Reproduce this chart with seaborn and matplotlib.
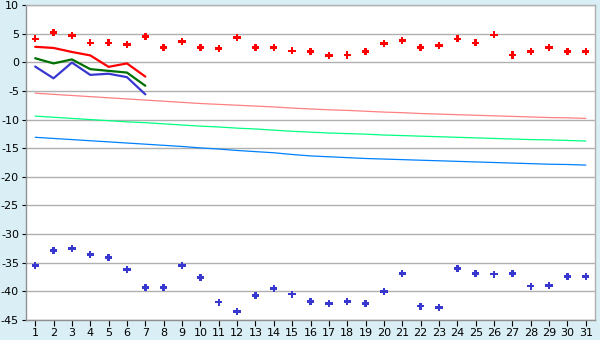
import matplotlib
matplotlib.use("Agg")
import matplotlib.pyplot as plt
import seaborn as sns
import numpy as np
import pandas as pd

days = list(range(1, 32))

max_temp = [4.1, 5.2, 4.7, 3.4, 3.4, 3.1, 4.5, 2.6, 3.6, 2.6, 2.4, 4.3, 2.6, 2.6, 2.0,
            1.9, 1.2, 1.3, 1.9, 3.3, 3.8, 2.6, 2.9, 4.1, 3.4, 4.8, 1.3, 1.9, 2.6, 1.9, 1.9]
min_temp = [-35.5, -32.9, -32.5, -33.6, -34.1, -36.2, -39.3, -39.3, -35.5, -37.6, -41.9,
            -43.5, -40.7, -39.5, -40.5, -41.8, -42.1, -41.8, -42.1, -40.0, -36.9, -42.6,
            -42.8, -36.0, -36.9, -37.0, -36.9, -39.1, -39.0, -37.4, -37.4]

obs_days = [1, 2, 3, 4, 5, 6, 7]
obs_max = [2.7, 2.5, 1.8, 1.2, -0.8, -0.2, -2.5]
obs_mean = [0.7, -0.2, 0.5, -1.2, -1.5, -1.8, -4.1]
obs_min = [-0.75, -2.8, -0.05, -2.2, -2.0, -2.6, -5.6]

norm_max = [-5.4, -5.6, -5.8, -6.0, -6.2, -6.4, -6.6, -6.8, -7.0, -7.2, -7.35, -7.5, -7.65,
            -7.8, -8.0, -8.15, -8.3, -8.4, -8.55, -8.7, -8.8, -8.95, -9.05, -9.15, -9.25,
            -9.35, -9.45, -9.55, -9.65, -9.7, -9.8]
norm_mean = [-9.4, -9.6, -9.8, -10.0, -10.2, -10.4, -10.55, -10.75, -10.95, -11.15, -11.3,
             -11.5, -11.65, -11.85, -12.05, -12.2, -12.35, -12.45, -12.55, -12.7, -12.8,
             -12.9, -13.0, -13.1, -13.2, -13.3, -13.4, -13.5, -13.55, -13.65, -13.75]
norm_min = [-13.1, -13.3, -13.5, -13.7, -13.9, -14.1, -14.3, -14.5, -14.7, -14.95, -15.15,
            -15.4, -15.6, -15.8, -16.1, -16.35, -16.5, -16.65, -16.8, -16.9, -17.0, -17.1,
            -17.2, -17.3, -17.4, -17.5, -17.6, -17.7, -17.8, -17.85, -17.95]

y_ticks = list(range(-45, 11, 5))

bg = "#d9eef5"
grid_c = "#b0b0b0"

sns.set_theme(style="white")
plt.rcParams['font.family'] = ['DejaVu Sans']

fig = plt.figure(figsize=(6, 3.4), dpi=100, facecolor=bg)
ax = fig.add_axes([26 / 600, 1 - 320 / 340, (595 - 26) / 600, (320 - 5) / 340])
ax.set_facecolor("white")

full = pd.DataFrame({"day": days, "max": max_temp, "min": min_temp,
                     "nmax": norm_max, "nmean": norm_mean, "nmin": norm_min})
obs = pd.DataFrame({"day": obs_days, "max": obs_max, "mean": obs_mean, "min": obs_min})

sns.lineplot(data=full, x="day", y="nmax", color="#ff8080", linewidth=0.9, ax=ax)
sns.lineplot(data=full, x="day", y="nmean", color="#00ff80", linewidth=0.9, ax=ax)
sns.lineplot(data=full, x="day", y="nmin", color="#0080ff", linewidth=0.9, ax=ax)

sns.lineplot(data=obs, x="day", y="max", color="#ff0000", linewidth=1.6, ax=ax)
sns.lineplot(data=obs, x="day", y="mean", color="#007000", linewidth=1.6, ax=ax)
sns.lineplot(data=obs, x="day", y="min", color="#3838d0", linewidth=1.6, ax=ax)

sns.scatterplot(data=full, x="day", y="max", marker="P", s=28, color="#ff0000",
                edgecolor="none", ax=ax)
sns.scatterplot(data=full, x="day", y="min", marker="P", s=28, color="#3838d0",
                edgecolor="none", ax=ax)

ax.set_xlim(0.5, 31.5)
ax.set_ylim(-45, 10)
ax.set_xticks(days)
ax.set_xticklabels([str(d) for d in days])
ax.set_yticks(y_ticks)
ax.set_yticklabels([str(t) for t in y_ticks])
ax.set_xlabel("")
ax.set_ylabel("")

ax.grid(axis="y", color=grid_c, linewidth=1.0)
ax.set_axisbelow(True)
for side in ["left", "bottom", "right", "top"]:
    ax.spines[side].set_visible(True)
    ax.spines[side].set_color(grid_c)
    ax.spines[side].set_linewidth(1.0)
ax.spines["left"].set_color("#909090")
ax.spines["bottom"].set_color("#909090")

ax.tick_params(axis="both", which="both", labelsize=8, colors="black",
               length=4, width=0.8, direction="out", pad=2)
ax.tick_params(axis="y", length=3)
ax.tick_params(left=True, bottom=True)

fig.savefig("out.png", dpi=100, facecolor=bg)
